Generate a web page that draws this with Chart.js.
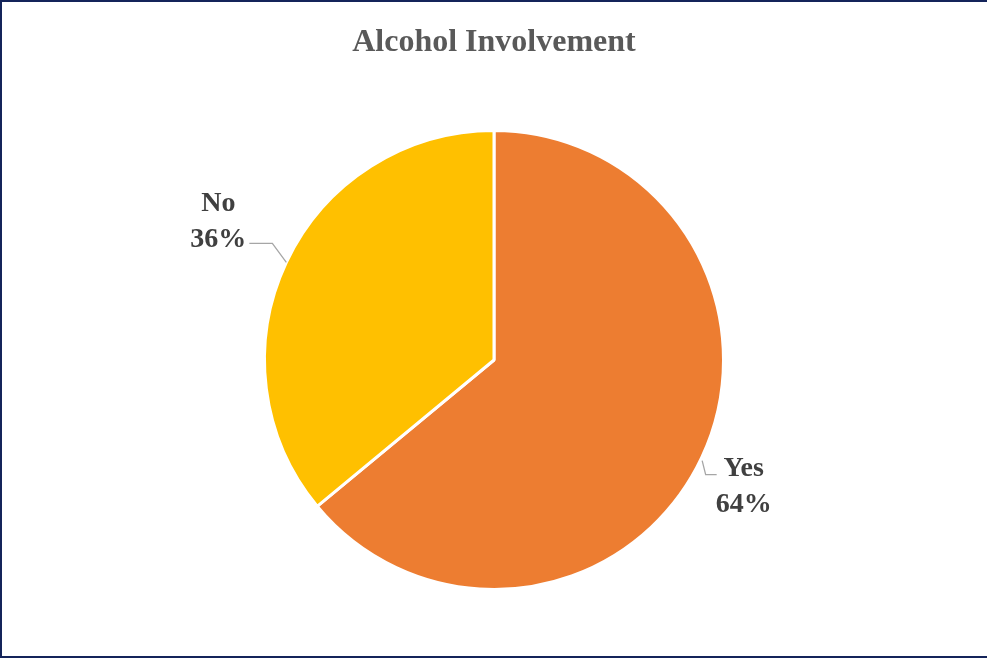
<!DOCTYPE html>
<html>
<head>
<meta charset="utf-8">
<script src="https://cdn.jsdelivr.net/npm/chart.js@4/dist/chart.umd.min.js"></script>
<style>
  html, body { margin: 0; padding: 0; background: #ffffff; }
  #wrap { position: relative; width: 987px; height: 658px; }
  #frame { position: absolute; left: 0; top: 0; width: 987px; height: 658px; box-sizing: border-box;
           border-left: 2px solid #14245A; border-top: 2px solid #14245A; border-bottom: 2px solid #14245A;
           pointer-events: none; }
</style>
</head>
<body>
<div id="wrap">
  <canvas id="c" width="987" height="658"></canvas>
  <div id="frame"></div>
</div>
<script>
const chartTitle = 'Alcohol Involvement';
const categories = ['Yes', 'No'];
const values = [64, 36];
const sliceColors = ['#ED7D31', '#FFC000'];

const serif = "'Liberation Serif', 'Times New Roman', serif";

const outLabels = {
  id: 'outLabels',
  afterDatasetsDraw(chart, args, opts) {
    const ctx = chart.ctx;
    const meta = chart.getDatasetMeta(0);
    const total = values.reduce((a, b) => a + b, 0);
    ctx.save();
    ctx.font = opts.font;
    meta.data.forEach((arc, i) => {
      const p = arc.getProps(['x', 'y', 'startAngle', 'endAngle', 'outerRadius'], true);
      const mid = (p.startAngle + p.endAngle) / 2;
      const cos = Math.cos(mid), sin = Math.sin(mid);
      const ex = p.x + p.outerRadius * cos, ey = p.y + p.outerRadius * sin;
      const sx = cos >= 0 ? 1 : -1, sy = sin >= 0 ? 1 : -1;
      const g = opts.leaders[i];
      const bx = ex + sx * g.dx, by = ey + sy * g.dy;
      const lx = bx + sx * g.len;
      ctx.strokeStyle = opts.lineColor;
      ctx.lineWidth = 1.3;
      ctx.beginPath();
      ctx.moveTo(ex + sx * g.start, ey + sy * g.startY);
      ctx.lineTo(bx, by);
      ctx.lineTo(lx, by);
      ctx.stroke();
      const lines = [categories[i], Math.round(values[i] / total * 100) + '%'];
      const bw = Math.max(...lines.map(t => ctx.measureText(t).width));
      const cx = sx > 0 ? lx + g.gap + bw / 2 : lx - g.gap - bw / 2;
      let b0;
      if (sy < 0) { b0 = by + 4 - opts.lineHeight; } else { b0 = by + 1; }
      ctx.fillStyle = opts.color;
      ctx.textAlign = 'center';
      ctx.textBaseline = 'alphabetic';
      lines.forEach((t, k) => ctx.fillText(t, cx, b0 + k * opts.lineHeight));
    });
    ctx.restore();
  }
};

new Chart(document.getElementById('c'), {
  type: 'pie',
  data: {
    labels: categories,
    datasets: [{
      data: values,
      backgroundColor: sliceColors,
      borderColor: '#ffffff',
      borderWidth: 3,
      hoverOffset: 0
    }]
  },
  options: {
    responsive: false,
    animation: false,
    layout: { padding: { top: 0, bottom: 67, left: 1, right: 0 } },
    plugins: {
      legend: { display: false },
      tooltip: { enabled: false },
      title: {
        display: true,
        text: chartTitle,
        color: '#595959',
        font: { family: serif, size: 32, weight: 'bold', lineHeight: 1.2 },
        padding: { top: 24, bottom: 66.6 }
      },
      outLabels: {
        font: "bold 28px " + serif,
        color: '#404040',
        lineColor: '#A6A6A6',
        lineHeight: 36.7,
        leaders: [
          { start: 0.5, startY: 3, dx: 4, dy: 17, len: 11, gap: -1 },
          { start: 0, startY: 0, dx: 14, dy: 19, len: 23, gap: 3 }
        ]
      }
    }
  },
  plugins: [outLabels]
});
</script>
</body>
</html>
